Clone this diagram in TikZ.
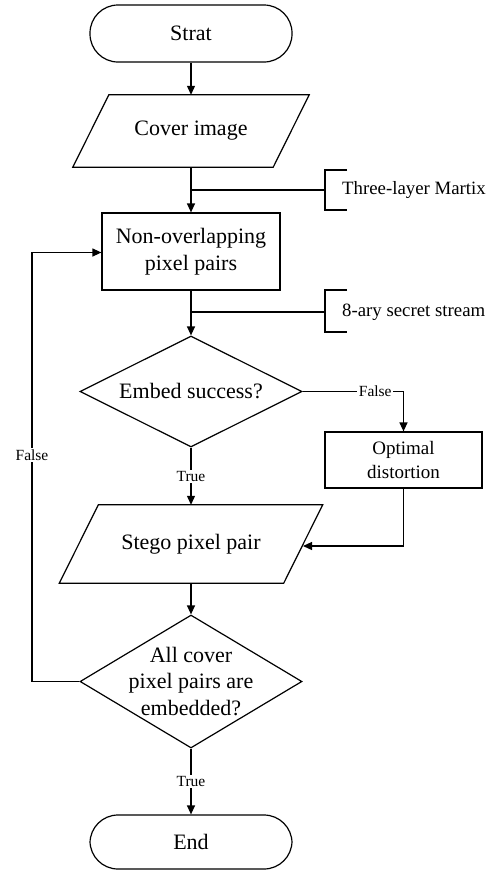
\documentclass[tikz,border=0pt]{standalone}
\usepackage{fontspec}
\setmainfont{Liberation Serif}
\usetikzlibrary{arrows.meta,shapes.geometric,calc}
\begin{document}
\begin{tikzpicture}[x=1pt,y=-1pt,
  line/.style={line width=1.2pt},
  flow/.style={line width=1.2pt,-{Triangle[length=9pt,width=8pt]}},
  term/.style={draw,line width=1.2pt,rectangle,rounded corners=28pt,
    minimum width=202pt,minimum height=57pt,inner sep=0pt,
    font=\fontsize{22}{27}\selectfont},
  proc/.style={draw,line width=1.2pt,rectangle,inner sep=0pt,align=center,
    font=\fontsize{22}{27}\selectfont},
  iobox/.style={rectangle,inner sep=0pt,align=center,
    font=\fontsize{22}{27}\selectfont},
  dec/.style={draw,line width=1.2pt,diamond,inner sep=0pt},
  txt/.style={inner sep=0pt,align=center,font=\fontsize{22}{26.5}\selectfont},
  note/.style={anchor=west,inner sep=0pt,font=\fontsize{18.8}{22}\selectfont},
  lbl/.style={fill=white,inner sep=1.5pt,font=\fontsize{15.5}{18}\selectfont},
]
\useasboundingbox (0,0) rectangle (496,871);

% main column
\node[term] (start) at (191,33.5) {Strat};
\node[iobox,minimum width=200pt,minimum height=72pt] (cov) at (191,131) {Cover image};
\draw[line] ($(cov.north west)+(18,0)$) -- ($(cov.north east)+(18,0)$)
  -- ($(cov.south east)+(-18,0)$) -- ($(cov.south west)+(-18,0)$) -- cycle;
\node[proc,minimum width=178pt,minimum height=77pt] (nop) at (191,251.5) {Non-overlapping\\pixel pairs};
\node[dec,minimum width=222pt,minimum height=111pt] (d1) at (191,391.5) {};
\node[txt] (d1t) at (d1) {Embed success?};
\node[proc,minimum width=157pt,minimum height=56pt,
  font=\fontsize{19}{24}\selectfont] (opt) at (403.5,460) {Optimal\\distortion};
\node[iobox,minimum width=224pt,minimum height=78pt] (stego) at (191,544) {Stego pixel pair};
\draw[line] ($(stego.north west)+(19.5,0)$) -- ($(stego.north east)+(19.5,0)$)
  -- ($(stego.south east)+(-19.5,0)$) -- ($(stego.south west)+(-19.5,0)$) -- cycle;
\node[dec,minimum width=222pt,minimum height=133pt] (d2) at (191,681.5) {};
\node[txt] (d2t) at (d2) {All cover\\pixel pairs are\\embedded?};
\node[term,minimum height=54pt] (end) at (191,842) {End};

% side inputs
\coordinate (j1) at (191,190);
\coordinate (j2) at (191,312);
\coordinate (b1) at (325,190);
\coordinate (b2) at (325,312);
\draw[line] (347,170) -- (325,170) -- (325,210) -- (347,210);
\draw[line] (347,290) -- (325,290) -- (325,332) -- (347,332);
\node[note] (n1) at (342,190) {Three-layer Martix};
\node[note] (n2) at (342,312) {8-ary secret stream};

% connectors
\draw[flow] (start.south) -- (cov.north);
\draw[flow] (cov.south) -- (nop.north);
\draw[line] (j1) -- (b1);
\draw[flow] (nop.south) -- (d1.north);
\draw[line] (j2) -- (b2);
\draw[flow] (d1.east) -| node[lbl,pos=0.36] {False} (opt.north);
\draw[flow] (d1.south) -- node[lbl] {True} (stego.north);
\coordinate (stR) at (303,546);
\draw[flow] (opt.south) |- (stR);
\draw[flow] (stego.south) -- (d2.north);
\draw[flow] (d2.south) -- node[lbl] {True} (end.north);
\coordinate (lp) at (32,681.5);
\draw[flow] (d2.west) -- (lp) |- node[lbl,pos=0.264] {False} ($(nop.west)+(0,1)$);
\end{tikzpicture}
\end{document}
